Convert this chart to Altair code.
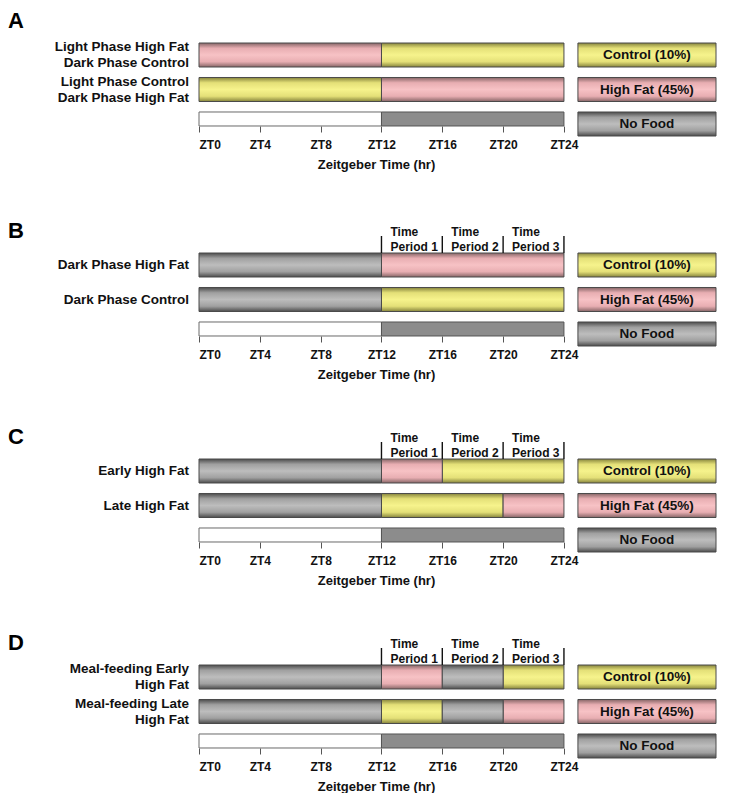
import altair as alt
import pandas as pd

# ---------------- data ----------------
PANELS = ["A", "B", "C", "D"]
ROWS = ["r1", "r2", "r3"]

label_panel = ["A", "A", "B", "B", "C", "C", "D", "D"]
label_row = ["r1", "r2", "r1", "r2", "r1", "r2", "r1", "r2"]
label_text = [
    "Light Phase High Fat\nDark Phase Control",
    "Light Phase Control\nDark Phase High Fat",
    "Dark Phase High Fat",
    "Dark Phase Control",
    "Early High Fat",
    "Late High Fat",
    "Meal-feeding Early\nHigh Fat",
    "Meal-feeding Late\nHigh Fat",
]

# feeding schedule segments (hours ZT)
seg_panel = ["A", "A", "A", "A",
             "B", "B", "B", "B",
             "C", "C", "C", "C", "C", "C",
             "D", "D", "D", "D", "D", "D", "D", "D"]
seg_row = ["r1", "r1", "r2", "r2",
           "r1", "r1", "r2", "r2",
           "r1", "r1", "r1", "r2", "r2", "r2",
           "r1", "r1", "r1", "r1", "r2", "r2", "r2", "r2"]
seg_start = [0, 12, 0, 12,
             0, 12, 0, 12,
             0, 12, 16, 0, 12, 20,
             0, 12, 16, 20, 0, 12, 16, 20]
seg_end = [12, 24, 12, 24,
           12, 24, 12, 24,
           12, 16, 24, 12, 20, 24,
           12, 16, 20, 24, 12, 16, 20, 24]
seg_food = ["HF", "C", "C", "HF",
            "NF", "HF", "NF", "C",
            "NF", "HF", "C", "NF", "C", "HF",
            "NF", "HF", "NF", "C", "NF", "C", "NF", "HF"]

# light / dark phase row
phase_name = ["light", "dark"]
phase_start = [0, 12]
phase_end = [12, 24]

# time periods header (panels B-D)
period_panels = ["B", "C", "D"]
period_start = [12, 16, 20]
period_label = ["Time\nPeriod 1", "Time\nPeriod 2", "Time\nPeriod 3"]
period_dividers = [12, 16, 20, 24]

# legend
legend_food = ["C", "HF", "NF"]
legend_label = ["Control (10%)", "High Fat (45%)", "No Food"]
legend_row = ["r1", "r2", "r3"]

tick_values = [0, 4, 8, 12, 16, 20, 24]

# ---------------- styles ----------------
FONT = "Liberation Sans"


def grad(edge, mid, soft):
    return alt.LinearGradient(
        gradient="linear", x1=0, x2=0, y1=0, y2=1,
        stops=[
            alt.GradientStop(color=edge, offset=0),
            alt.GradientStop(color=soft, offset=0.22),
            alt.GradientStop(color=mid, offset=0.5),
            alt.GradientStop(color=soft, offset=0.78),
            alt.GradientStop(color=edge, offset=1),
        ],
    )


GRAD = {
    "C": grad("#86843c", "#f6f38c", "#e4e078"),
    "HF": grad("#876667", "#f7c2c5", "#e8aeb2"),
    "NF": grad("#4c4c4c", "#bdbdbd", "#a0a0a0"),
}
STROKE = "#4a4a4a"

seg_df = pd.DataFrame(dict(panel=seg_panel, row=seg_row, start=seg_start,
                           end=seg_end, food=seg_food))
lab_df = pd.DataFrame(dict(panel=label_panel, row=label_row, text=label_text))
lab_df["multi"] = lab_df.text.str.contains("\n")
phase_df = pd.DataFrame(dict(phase=phase_name, start=phase_start, end=phase_end,
                             row=["r3", "r3"]))
period_df = pd.DataFrame(dict(start=period_start, label=period_label))
div_df = pd.DataFrame(dict(x=period_dividers))
leg_df = pd.DataFrame(dict(food=legend_food, label=legend_label, row=legend_row))

xs = alt.Scale(domain=[0, 34], nice=False, zero=False)
ys = alt.Scale(domain=ROWS, paddingInner=0.304, paddingOuter=0)
x_axis = alt.Axis(
    values=tick_values, labelExpr="'ZT' + datum.value", domain=False, grid=False,
    tickSize=6, tickColor="#555", tickWidth=1, offset=-10,
    labelFont=FONT, labelFontWeight="bold", labelFontSize=12, labelColor="#111",
    labelPadding=7, labelAngle=0,
    title="Zeitgeber Time (hr)", titleX=177, titleFont=FONT,
    titleFontWeight="bold", titleFontSize=13, titleColor="#111", titlePadding=8,
)
Y = alt.Y("row:N", scale=ys, axis=None)


def X(field):
    return alt.X(field, scale=xs, axis=x_axis)


def XD(v):
    return alt.XDatum(v, scale=xs, axis=x_axis)


def panel(p):
    layers = []
    sp = seg_df[seg_df.panel == p]
    for food in ["C", "HF", "NF"]:
        d = sp[sp.food == food]
        if len(d):
            layers.append(
                alt.Chart(d).mark_rect(fill=GRAD[food], stroke=STROKE, strokeWidth=1)
                .encode(x=X("start:Q"), x2="end:Q", y=Y)
            )
    # light/dark row
    layers.append(
        alt.Chart(phase_df[phase_df.phase == "light"])
        .mark_bar(size=14, yOffset=-5, fill="white", stroke="#6a6a6a", strokeWidth=1)
        .encode(x=X("start:Q"), x2="end:Q", y=Y)
    )
    layers.append(
        alt.Chart(phase_df[phase_df.phase == "dark"])
        .mark_bar(size=14, yOffset=-5, fill="#8c8c8c", stroke="#555", strokeWidth=1)
        .encode(x=X("start:Q"), x2="end:Q", y=Y)
    )
    # legend boxes
    for food in legend_food:
        d = leg_df[leg_df.food == food]
        layers.append(
            alt.Chart(d).mark_rect(fill=GRAD[food], stroke=STROKE, strokeWidth=1)
            .encode(x=XD(24.92), x2=alt.X2Datum(34), y=Y)
        )
    layers.append(
        alt.Chart(leg_df).mark_text(font=FONT, fontWeight="bold", fontSize=13.5,
                                    color="#111", align="center", baseline="middle")
        .encode(x=XD(29.46), y=Y, text="label:N")
    )
    # row labels
    lp = lab_df[lab_df.panel == p]
    single = lp[~lp.multi]
    multi = lp[lp.multi]
    if len(single):
        layers.append(
            alt.Chart(single)
            .mark_text(font=FONT, fontWeight="bold", fontSize=13.5, color="#111",
                       align="right", baseline="middle")
            .encode(x=alt.value(-10), y=Y, text="text:N")
        )
    if len(multi):
        layers.append(
            alt.Chart(multi)
            .mark_text(font=FONT, fontWeight="bold", fontSize=13.5, color="#111",
                       align="right", baseline="middle", lineBreak="\n",
                       lineHeight=16, dy=-8)
            .encode(x=alt.value(-10), y=Y, text="text:N")
        )
    # time period header
    if p in period_panels:
        layers.append(
            alt.Chart(div_df).mark_rule(color="#111", strokeWidth=1.4)
            .encode(x=X("x:Q"), y=alt.value(-17), y2=alt.value(0))
        )
        layers.append(
            alt.Chart(period_df)
            .mark_text(font=FONT, fontWeight="bold", fontSize=12, color="#111",
                       align="left", baseline="middle", lineBreak="\n",
                       lineHeight=15, dx=9)
            .encode(x=X("start:Q"), y=alt.value(-21), text="label:N")
        )
    # panel letter
    layers.append(
        alt.Chart(pd.DataFrame(dict(letter=[p])))
        .mark_text(font=FONT, fontWeight="bold", fontSize=22, color="#000",
                   align="left", baseline="middle")
        .encode(x=alt.value(-191), y=alt.value(-22), text="letter:N")
    )
    return alt.layer(*layers).properties(width=517, height=93)


chart = (
    alt.vconcat(
        panel("A"),
        alt.vconcat(panel("B"), panel("C"), panel("D"), spacing=45),
        spacing=49,
    )
    .properties(padding={"left": 0, "top": 2, "right": 5, "bottom": 0})
    .configure_view(stroke=None)
)

chart.save("out.html", embed_options={"renderer": "svg", "actions": False})
